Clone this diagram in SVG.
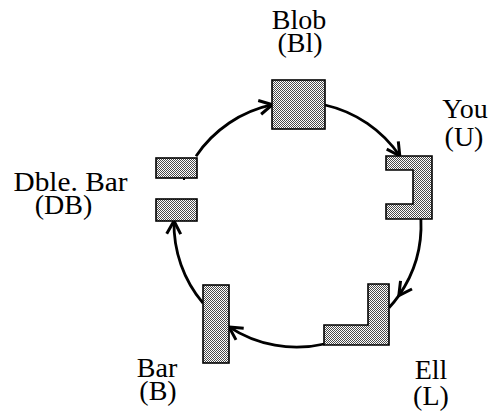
<svg xmlns="http://www.w3.org/2000/svg" width="490" height="416" viewBox="0 0 490 416">
  <style>
    .shape { fill: url(#stipple); stroke: #000; stroke-width: 1.6; stroke-linejoin: miter; }
    .label { font-family: "Liberation Serif", "Times New Roman", serif; font-size: 28px; fill: #000; text-anchor: middle; }
    .link { fill: none; stroke: #000; stroke-width: 2.8; stroke-linecap: butt; }
  </style>
  <defs>
    <!-- halftone fill used by every shape -->
    <pattern id="stipple" width="2" height="2" patternUnits="userSpaceOnUse">
      <rect width="2" height="2" fill="#fff"/>
      <rect width="1" height="1" fill="#4a4a4a"/>
      <rect x="1" y="1" width="1" height="1" fill="#4a4a4a"/>
    </pattern>
    <!-- open vee arrowhead -->
    <marker id="vee" markerUnits="userSpaceOnUse" orient="auto" refX="0" refY="0" overflow="visible">
      <path d="M-13,-7 L0,0 L-13,7" fill="none" stroke="#000" stroke-width="3" stroke-linejoin="miter"/>
    </marker>
  </defs>

  <rect width="490" height="416" fill="#fff"/>

  <!-- connectors: clockwise ring, centre (298,225), radius 123 -->
  <g id="connectors">
    <path class="link" d="M196,156.2 A123,123 0 0 1 272.4,104.7" marker-end="url(#vee)"/>
    <path class="link" d="M325,105 A123,123 0 0 1 399.8,156" marker-end="url(#vee)"/>
    <path class="link" d="M420.9,219 A123,123 0 0 1 398.8,295.6 A123,123 0 0 1 389,307.8" marker-mid="url(#vee)"/>
    <path class="link" d="M324.4,344 A123,123 0 0 1 229,326.9" marker-end="url(#vee)"/>
    <path class="link" d="M203,303.1 A123,123 0 0 1 174,221" marker-end="url(#vee)"/>
  </g>

  <g id="blob">
    <rect class="shape" x="272" y="80" width="53" height="49"/>
    <text class="label" x="299" y="29">Blob</text>
    <text class="label" x="300" y="52">(Bl)</text>
  </g>

  <g id="you">
    <polygon class="shape" points="386,156 432,156 432,219 386,219 386,204 413,204 413,170 386,170"/>
    <text class="label" x="465" y="118">You</text>
    <text class="label" x="464" y="146">(U)</text>
  </g>

  <g id="ell">
    <polygon class="shape" points="368,284 389,284 389,345 324,345 324,325 368,325"/>
    <text class="label" x="431" y="379">Ell</text>
    <text class="label" x="431" y="405">(L)</text>
  </g>

  <g id="bar">
    <rect class="shape" x="203" y="285" width="26" height="78"/>
    <text class="label" x="157" y="377">Bar</text>
    <text class="label" x="158" y="400">(B)</text>
  </g>

  <g id="double-bar">
    <rect class="shape" x="156" y="158" width="41" height="20"/>
    <rect class="shape" x="156" y="199" width="41" height="22"/>
    <rect x="183" y="178" width="2" height="2" fill="#000"/>
    <text class="label" x="70.5" y="191" textLength="114" lengthAdjust="spacingAndGlyphs">Dble. Bar</text>
    <text class="label" x="63.5" y="214">(DB)</text>
  </g>
</svg>
